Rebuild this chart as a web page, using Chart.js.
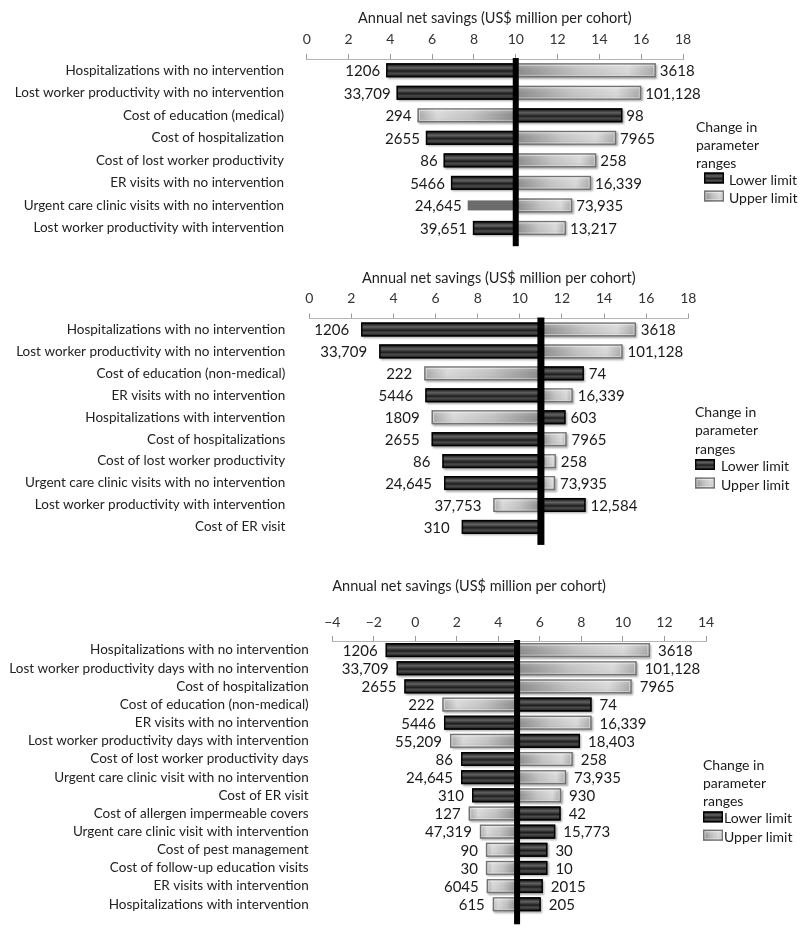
<!DOCTYPE html>
<html>
<head>
<meta charset="utf-8">
<script src="https://cdn.jsdelivr.net/npm/chart.js@4"></script>
<style>
  html, body { margin: 0; padding: 0; background: #fff; }
  body { width: 800px; height: 937px; position: relative; overflow: hidden; font-family: Lato, sans-serif; }
  .wrap { position: absolute; left: 0; width: 800px; }
  canvas { display: block; }
</style>
</head>
<body>
<div class="wrap" style="top:0;height:262px"><canvas id="c1"></canvas></div>
<div class="wrap" style="top:262px;height:300px"><canvas id="c2"></canvas></div>
<div class="wrap" style="top:562px;height:375px"><canvas id="c3"></canvas></div>
<script>
// ---------------- DATA ----------------
const axisTitle = 'Annual net savings (US$ million per cohort)';
const legendTitle = ['Change in', 'parameter', 'ranges'];
const seriesNames = ['Lower limit', 'Upper limit'];

// Chart 1
const cats1 = [
  'Hospitalizations with no intervention',
  'Lost worker productivity with no intervention',
  'Cost of education (medical)',
  'Cost of hospitalization',
  'Cost of lost worker productivity',
  'ER visits with no intervention',
  'Urgent care clinic visits with no intervention',
  'Lost worker productivity with intervention'
];
const base1 = 10;
const low1  = [3.8, 4.3, 15.1, 5.7, 6.55, 6.9, 7.7, 7.95];
const high1 = [16.7, 16.0, 5.3, 14.8, 13.85, 13.6, 12.7, 12.4];
const lowText1  = ['1206', '33,709', '98', '2655', '86', '5466', '24,645', '39,651'];
const highText1 = ['3618', '101,128', '294', '7965', '258', '16,339', '73,935', '13,217'];

// Chart 2
const cats2 = [
  'Hospitalizations with no intervention',
  'Lost worker productivity with no intervention',
  'Cost of education (non-medical)',
  'ER visits with no intervention',
  'Hospitalizations with intervention',
  'Cost of hospitalizations',
  'Cost of lost worker productivity',
  'Urgent care clinic visits with no intervention',
  'Lost worker productivity with intervention',
  'Cost of ER visit'
];
const base2 = 11;
const low2  = [2.46, 3.32, 13.04, 5.51, 12.17, 5.81, 6.32, 6.40, 13.12, 7.24];
const high2 = [15.51, 14.88, 5.46, 12.51, 5.81, 12.22, 11.71, 11.67, 8.74, null];
const lowText2  = ['1206', '33,709', '74', '5446', '603', '2655', '86', '24,645', '12,584', '310'];
const highText2 = ['3618', '101,128', '222', '16,339', '1809', '7965', '258', '73,935', '37,753', ''];

// Chart 3
const cats3 = [
  'Hospitalizations with no intervention',
  'Lost worker productivity days with no intervention',
  'Cost of hospitalization',
  'Cost of education (non-medical)',
  'ER visits with no intervention',
  'Lost worker productivity days with intervention',
  'Cost of lost worker productivity days',
  'Urgent care clinic visit with no intervention',
  'Cost of ER visit',
  'Cost of allergen impermeable covers',
  'Urgent care clinic visit with intervention',
  'Cost of pest management',
  'Cost of follow-up education visits',
  'ER visits with intervention',
  'Hospitalizations with intervention'
];
const base3 = 4.9;
const low3  = [-1.43, -0.90, -0.53, 8.49, 1.38, 7.93, 2.20, 2.20, 2.73, 7.00, 6.74, 6.36, 6.36, 6.14, 6.04];
const high3 = [11.30, 10.66, 10.42, 1.30, 8.49, 1.67, 7.58, 7.26, 7.02, 2.57, 3.11, 3.40, 3.40, 3.44, 3.73];
const lowText3  = ['1206', '33,709', '2655', '74', '5446', '18,403', '86', '24,645', '310', '42', '15,773', '30', '10', '2015', '205'];
const highText3 = ['3618', '101,128', '7965', '222', '16,339', '55,209', '258', '73,935', '930', '127', '47,319', '90', '30', '6045', '615'];

// ---------------- DRAWING HELPERS ----------------
Chart.defaults.font.family = 'Lato, "Open Sans", sans-serif';
Chart.defaults.color = '#222';

function darkFill(ctx, x0, y0, w, h) {
  const g = ctx.createLinearGradient(0, y0, 0, y0 + h);
  g.addColorStop(0, '#0a0a0a');
  g.addColorStop(0.14, '#2c2c2c');
  g.addColorStop(0.32, '#626262');
  g.addColorStop(0.46, '#3a3a3a');
  g.addColorStop(0.56, '#1c1c1c');
  g.addColorStop(0.72, '#4c4c4c');
  g.addColorStop(0.88, '#2a2a2a');
  g.addColorStop(1, '#0a0a0a');
  ctx.fillStyle = g;
  ctx.fillRect(x0, y0, w, h);
  ctx.shadowColor = 'transparent';
  ctx.lineWidth = 1.4;
  ctx.strokeStyle = '#000';
  ctx.strokeRect(x0 + 0.7, y0 + 0.7, w - 1.4, h - 1.4);
}
function lightFill(ctx, x0, y0, w, h, towardLeft) {
  const gx = towardLeft
    ? ctx.createLinearGradient(x0 + w, 0, x0, 0)
    : ctx.createLinearGradient(x0, 0, x0 + w, 0);
  gx.addColorStop(0, '#8a8a8a');
  gx.addColorStop(0.45, '#c2c2c2');
  gx.addColorStop(0.8, '#d8d8d8');
  gx.addColorStop(1, '#a6a6a6');
  ctx.fillStyle = gx;
  ctx.fillRect(x0, y0, w, h);
  ctx.shadowColor = 'transparent';
  const gy = ctx.createLinearGradient(0, y0, 0, y0 + h);
  gy.addColorStop(0, 'rgba(255,255,255,0.25)');
  gy.addColorStop(0.5, 'rgba(255,255,255,0)');
  gy.addColorStop(1, 'rgba(0,0,0,0.15)');
  ctx.fillStyle = gy;
  ctx.fillRect(x0, y0, w, h);
  ctx.lineWidth = 1.3;
  ctx.strokeStyle = '#727272';
  ctx.strokeRect(x0 + 0.65, y0 + 0.65, w - 1.3, h - 1.3);
  ctx.lineWidth = 1;
  ctx.strokeStyle = 'rgba(255,255,255,0.45)';
  ctx.strokeRect(x0 + 2, y0 + 2, w - 4, h - 4);
}

const tornadoPlugin = {
  id: 'tornado',
  afterDatasetsDraw(chart, args, opts) {
    const ctx = chart.ctx;
    const area = chart.chartArea;
    const basePx = chart.scales.x.getPixelForValue(opts.base);
    // outer (non-base) end of a floating bar
    const outerEnd = p => (Math.abs(p.x - basePx) > Math.abs(p.base - basePx) ? p.x : p.base);
    // bar styling over library-computed bar geometry
    chart.data.datasets.forEach((ds, di) => {
      const meta = chart.getDatasetMeta(di);
      meta.data.forEach((el, i) => {
        if (ds.data[i] == null) return;
        const p = el.getProps(['x', 'y', 'base', 'height'], true);
        const x0 = Math.min(p.x, p.base), x1 = Math.max(p.x, p.base);
        const y0 = p.y - p.height / 2, h = p.height, w = x1 - x0;
        const leftSide = outerEnd(p) < basePx;
        ctx.save();
        ctx.clearRect(x0 - 1, y0 - 1, w + 2, h + 2);
        if (opts.flat && opts.flat.ds === di && opts.flat.index === i) {
          ctx.fillStyle = '#6c6c6c';
          ctx.fillRect(x0, y0 + 2, w, h - 4);
          ctx.restore();
          return;
        }
        ctx.shadowColor = 'rgba(0,0,0,0.35)';
        ctx.shadowBlur = 2;
        ctx.shadowOffsetX = 1.5;
        ctx.shadowOffsetY = 1.5;
        if (di === 0) darkFill(ctx, x0, y0, w, h);
        else lightFill(ctx, x0, y0, w, h, leftSide);
        ctx.restore();
      });
    });
    // thick base line
    ctx.save();
    ctx.fillStyle = '#000';
    ctx.fillRect(basePx - opts.lineW / 2, area.top - 1, opts.lineW, area.bottom - area.top + opts.lineExt);
    ctx.restore();
    // value labels at the outer bar ends
    ctx.save();
    ctx.font = '15px Lato, "Open Sans", sans-serif';
    ctx.fillStyle = '#1a1a1a';
    ctx.textBaseline = 'middle';
    chart.data.datasets.forEach((ds, di) => {
      const meta = chart.getDatasetMeta(di);
      const texts = opts.texts[di];
      meta.data.forEach((el, i) => {
        if (ds.data[i] == null || !texts[i]) return;
        const p = el.getProps(['x', 'y', 'base'], true);
        const ox = outerEnd(p);
        if (ox < basePx) {
          ctx.textAlign = 'right';
          ctx.fillText(texts[i], ox - opts.gapL, p.y + 1);
        } else {
          ctx.textAlign = 'left';
          ctx.fillText(texts[i], ox + opts.gapR, p.y + 1);
        }
      });
    });
    ctx.restore();
    // legend
    const L = opts.legend;
    ctx.save();
    ctx.font = '14px Lato, "Open Sans", sans-serif';
    ctx.fillStyle = '#1a1a1a';
    ctx.textBaseline = 'middle';
    ctx.textAlign = 'left';
    legendTitle.forEach((t, k) => ctx.fillText(t, L.x, L.y + k * L.step));
    const boxW = 20, boxH = 11;
    seriesNames.forEach((name, k) => {
      const cy = L.y + (3 + k) * L.step - 1;
      ctx.save();
      if (k === 0) darkFill(ctx, L.boxX, cy - boxH / 2 - 2, boxW, boxH);
      else lightFill(ctx, L.boxX, cy - boxH / 2 - 2, boxW, boxH, false);
      ctx.restore();
      ctx.fillText(name, L.textX, cy);
    });
    ctx.restore();
  }
};

function makeChart(id, cfg) {
  const toRange = (arr, base) => arr.map(v => (v == null ? null : [base, v]));
  return new Chart(document.getElementById(id), {
    type: 'bar',
    data: {
      labels: cfg.cats,
      datasets: [
        { label: seriesNames[0], data: toRange(cfg.low, cfg.base), backgroundColor: '#333', borderWidth: 0,
          grouped: false, barThickness: 14 },
        { label: seriesNames[1], data: toRange(cfg.high, cfg.base), backgroundColor: '#c8c8c8', borderWidth: 0,
          grouped: false, barThickness: 14 }
      ]
    },
    options: {
      indexAxis: 'y',
      responsive: true,
      maintainAspectRatio: false,
      animation: false,
      events: [],
      layout: { padding: cfg.padding },
      plugins: {
        legend: { display: false },
        tooltip: { enabled: false },
        tornado: {
          base: cfg.base, lineW: cfg.lineW, lineExt: cfg.lineExt,
          texts: [cfg.lowText, cfg.highText], gapL: cfg.gapL, gapR: cfg.gapR,
          legend: cfg.legend, flat: cfg.flat || null
        }
      },
      scales: {
        x: {
          position: 'top',
          min: cfg.min, max: cfg.max,
          ticks: { stepSize: 2, font: { size: 14 }, color: '#333', padding: cfg.tickPad, maxRotation: 0, autoSkip: false,
                   callback: v => String(v).replace('-', '\u2212') },
          grid: { display: true, drawOnChartArea: false, drawTicks: true, tickLength: 5, color: '#9a9a9a' },
          border: { display: true, color: '#b4b4b4', width: 1 },
          title: { display: true, text: axisTitle, font: { size: 14.5 }, color: '#222', align: cfg.titleAlign,
                   padding: { top: cfg.titlePad, bottom: 0 } },
          afterFit: s => { s.height = cfg.xH; }
        },
        y: {
          ticks: { font: { size: 13.5 }, color: '#222', padding: cfg.yPad, autoSkip: false },
          grid: { display: false },
          border: { display: false },
          afterFit: s => { s.width = cfg.yW; }
        }
      }
    },
    plugins: [tornadoPlugin]
  });
}

makeChart('c1', {
  cats: cats1, low: low1, high: high1, lowText: lowText1, highText: highText1, base: base1,
  min: 0, max: 18, padding: { top: 4, bottom: 12.6, left: 0, right: 117 },
  xH: 55, yW: 306.7, yPad: 14.7, tickPad: 6, titlePad: 5.4, titleAlign: 'center',
  lineW: 6, lineExt: 8, gapL: 6, gapR: 4,
  legend: { x: 696, y: 127, step: 18, boxX: 704, textX: 729 },
  flat: { ds: 0, index: 6 }
});
makeChart('c2', {
  cats: cats2, low: low2, high: high2, lowText: lowText2, highText: highText2, base: base2,
  min: 0, max: 18, padding: { top: 2, bottom: 14.5, left: 0, right: 111.7 },
  xH: 54.5, yW: 309.3, yPad: 16, tickPad: 7, titlePad: 5.4, titleAlign: 'center',
  lineW: 7, lineExt: 8, gapL: 12, gapR: 5,
  legend: { x: 695, y: 412 - 262, step: 18.5, boxX: 695, textX: 721 }
});
makeChart('c3', {
  cats: cats3, low: low3, high: high3, lowText: lowText3, highText: highText3, base: base3,
  min: -4, max: 14, padding: { top: 2, bottom: 14, left: 0, right: 94 },
  xH: 77, yW: 332.3, yPad: 15.6, tickPad: 5, titlePad: 14, titleAlign: 'start',
  lineW: 6, lineExt: 12, gapL: 8, gapR: 8,
  legend: { x: 703, y: 765 - 562, step: 18.3, boxX: 703, textX: 724 }
});
</script>
</body>
</html>
